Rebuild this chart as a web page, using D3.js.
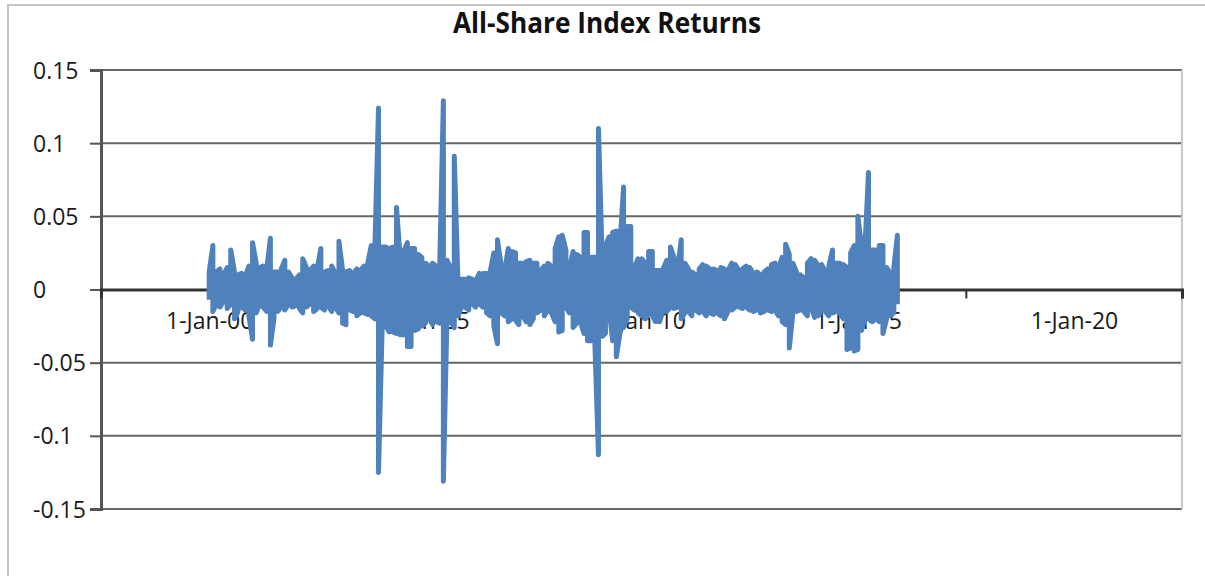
<!DOCTYPE html>
<html><head><meta charset="utf-8">
<script src="https://cdn.jsdelivr.net/npm/d3@7"></script>
<style>body{margin:0;background:#fff}svg{display:block}</style>
</head><body><svg id="chart" width="1205" height="576"></svg>
<script>
const titleText = "All-Share Index Returns";
const firstMonth = "2000-01-01";
// monthly high / low of returns (Excel date axis, base unit = months), Jan 2000 .. Dec 2015
const monthHigh = [
 0.012,0.030,0.012,0.014,0.010,0.015, 0.027,0.012,0.010,0.011,0.009,0.016,
 0.032,0.018,0.015,0.016,0.014,0.035, 0.012,0.012,0.014,0.020,0.012,0.008,
 0.007,0.010,0.021,0.015,0.013,0.016, 0.014,0.028,0.012,0.013,0.016,0.011,
 0.033,0.013,0.012,0.013,0.011,0.014, 0.013,0.016,0.018,0.030,0.030,0.124,
 0.029,0.029,0.028,0.029,0.056,0.022, 0.026,0.032,0.028,0.028,0.024,0.022,
 0.018,0.016,0.018,0.016,0.016,0.129, 0.020,0.015,0.091,0.009,0.007,0.007,
 0.008,0.007,0.006,0.011,0.011,0.011, 0.012,0.025,0.034,0.017,0.013,0.028,
 0.026,0.025,0.018,0.018,0.019,0.020, 0.018,0.018,0.013,0.016,0.018,0.016,
 0.028,0.036,0.037,0.027,0.015,0.026, 0.024,0.022,0.039,0.039,0.022,0.022,
 0.110,0.022,0.030,0.036,0.039,0.040, 0.030,0.070,0.043,0.043,0.015,0.021,
 0.021,0.018,0.026,0.026,0.013,0.013, 0.014,0.020,0.029,0.022,0.014,0.034,
 0.018,0.014,0.012,0.010,0.014,0.017, 0.016,0.014,0.014,0.013,0.015,0.014,
 0.013,0.018,0.017,0.013,0.014,0.016, 0.015,0.011,0.012,0.010,0.012,0.014,
 0.017,0.018,0.014,0.022,0.031,0.024, 0.018,0.012,0.010,0.008,0.018,0.021,
 0.020,0.016,0.017,0.012,0.016,0.027, 0.018,0.018,0.017,0.015,0.025,0.030,
 0.050,0.030,0.027,0.080,0.027,0.027, 0.030,0.030,0.015,0.011,0.015,0.037
];
const monthLow = [
 -0.007,-0.015,-0.010,-0.012,-0.008,-0.013, -0.010,-0.020,-0.015,-0.012,-0.014,-0.018,
 -0.034,-0.016,-0.010,-0.012,-0.015,-0.038, -0.020,-0.015,-0.012,-0.014,-0.010,-0.012,
 -0.011,-0.013,-0.016,-0.012,-0.010,-0.015, -0.013,-0.012,-0.014,-0.011,-0.015,-0.012,
 -0.016,-0.023,-0.024,-0.014,-0.015,-0.018, -0.016,-0.016,-0.017,-0.018,-0.020,-0.125,
 -0.025,-0.025,-0.029,-0.029,-0.030,-0.031, -0.031,-0.039,-0.039,-0.028,-0.027,-0.025,
 -0.023,-0.020,-0.024,-0.022,-0.023,-0.131, -0.020,-0.022,-0.026,-0.018,-0.012,-0.012,
 -0.014,-0.010,-0.012,-0.010,-0.012,-0.016, -0.018,-0.025,-0.037,-0.016,-0.018,-0.022,
 -0.020,-0.021,-0.024,-0.018,-0.022,-0.024, -0.020,-0.016,-0.014,-0.018,-0.014,-0.016,
 -0.022,-0.029,-0.028,-0.012,-0.016,-0.026, -0.023,-0.022,-0.030,-0.035,-0.035,-0.035,
 -0.113,-0.032,-0.030,-0.014,-0.035,-0.046, -0.030,-0.026,-0.020,-0.012,-0.014,-0.016,
 -0.018,-0.020,-0.016,-0.018,-0.022,-0.022, -0.014,-0.015,-0.012,-0.013,-0.012,-0.020,
 -0.016,-0.015,-0.018,-0.014,-0.016,-0.015, -0.018,-0.016,-0.017,-0.016,-0.018,-0.020,
 -0.015,-0.014,-0.012,-0.012,-0.013,-0.012, -0.014,-0.015,-0.014,-0.016,-0.015,-0.014,
 -0.015,-0.014,-0.018,-0.022,-0.024,-0.040, -0.016,-0.015,-0.014,-0.015,-0.018,-0.012,
 -0.019,-0.018,-0.014,-0.015,-0.018,-0.016, -0.015,-0.016,-0.020,-0.041,-0.040,-0.042,
 -0.041,-0.028,-0.020,-0.020,-0.022,-0.020, -0.022,-0.030,-0.020,-0.018,-0.016,-0.010
];
const yTickValues = [0.15, 0.1, 0.05, 0, -0.05, -0.1, -0.15];
const xLabelDates = ["2000-01-01","2005-01-01","2010-01-01","2015-01-01","2020-01-01"];
const xTickDates = ["1997-07-01","2002-07-01","2007-07-01","2012-07-01","2017-07-01","2022-07-01"];

const svg = d3.select("#chart");
const plot = {left:101, right:1182, top:70, bottom:509};
const parse = d3.utcParse("%Y-%m-%d");
const x = d3.scaleUtc().domain([parse(xTickDates[0]), parse(xTickDates[xTickDates.length-1])]).range([plot.left, plot.right]);
const y = d3.scaleLinear().domain([-0.15, 0.15]).range([plot.bottom, plot.top]);
const font = "'Open Sans', 'DejaVu Sans', sans-serif";

// chart frame
svg.append("rect").attr("x",8).attr("y",5).attr("width",1400).attr("height",800)
  .attr("fill","none").attr("stroke","#c3c3c3").attr("stroke-width",2);

// title
svg.append("text").attr("x",607).attr("y",33).attr("text-anchor","middle")
  .attr("font-family",font).attr("font-weight","bold").attr("font-size",29)
  .attr("textLength",308).attr("lengthAdjust","spacingAndGlyphs")
  .attr("fill","#111").text(titleText);

// gridlines
svg.append("g").selectAll("line").data(yTickValues.filter(v=>v!==0)).join("line")
  .attr("x1",plot.left).attr("x2",plot.right)
  .attr("y1",d=>y(d)).attr("y2",d=>y(d))
  .attr("stroke","#666").attr("stroke-width",2);

// plot area right border
svg.append("line").attr("x1",plot.right).attr("x2",plot.right).attr("y1",plot.top).attr("y2",plot.bottom)
  .attr("stroke","#c8c8c8").attr("stroke-width",2);

// y axis
const yAxis = d3.axisLeft(y).tickValues(yTickValues).tickSize(11).tickFormat(d=>String(d));
const gy = svg.append("g").attr("transform",`translate(${plot.left},0)`).call(yAxis);
gy.select(".domain").attr("stroke","#555").attr("stroke-width",3);
gy.selectAll(".tick line").attr("stroke","#555").attr("stroke-width",2);
gy.selectAll(".tick text").attr("text-anchor","start").attr("x",33-plot.left).attr("dy",null).attr("y",8)
  .attr("font-family",font).attr("font-size",23).attr("fill","#1a1a1a");

// x axis at zero: ticks
const xAxisTicks = d3.axisBottom(x).tickValues(xTickDates.map(parse)).tickSize(9).tickFormat("");
const gx = svg.append("g").attr("transform",`translate(0,${y(0)})`).call(xAxisTicks);
gx.select(".domain").attr("stroke","#333").attr("stroke-width",3);
gx.selectAll(".tick line").attr("stroke","#333").attr("stroke-width",2);
// x labels
const fmt = d3.utcFormat("%-d-%b-%y");
const xAxisLabels = d3.axisBottom(x).tickValues(xLabelDates.map(parse)).tickSize(0).tickFormat(fmt);
const gxl = svg.append("g").attr("transform",`translate(0,${y(0)})`).call(xAxisLabels);
gxl.select(".domain").remove();
gxl.selectAll(".tick text").attr("dy",null).attr("y",39)
  .attr("font-family",font).attr("font-size",23).attr("fill","#1a1a1a");

// zero line left extension (tick at 0 on y axis drawn above); data line
const start = parse(firstMonth);
const pts = [];
monthHigh.forEach((hi,i)=>{
  const d = d3.utcMonth.offset(start,i);
  const lo = monthLow[i];
  if(i%2===0){ pts.push([d,lo]); pts.push([d,hi]); }
  else { pts.push([d,hi]); pts.push([d,lo]); }
});
const line = d3.line().x(p=>x(p[0])).y(p=>y(p[1]));
svg.append("path").attr("d",line(pts)).attr("fill","none")
  .attr("stroke","#4f81bd").attr("stroke-width",5).attr("stroke-linejoin","round");
</script></body></html>
